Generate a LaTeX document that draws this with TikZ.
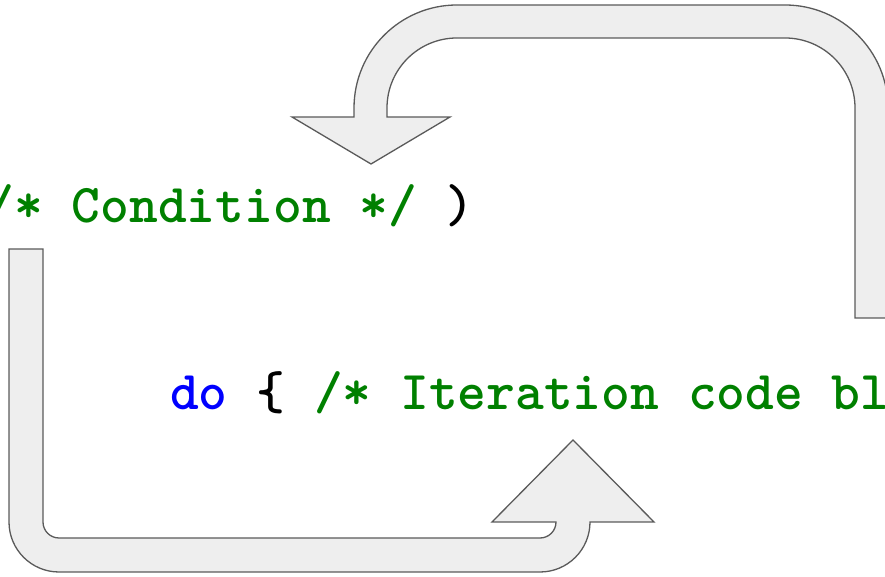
\documentclass[tikz,border=0pt]{standalone}
\usepackage{xcolor}
\definecolor{codegreen}{HTML}{008000}
\definecolor{codeblue}{HTML}{0000FF}
\definecolor{arrowline}{HTML}{5A5A5A}
\definecolor{arrowfill}{HTML}{EEEEEE}
\tikzset{
  looparrow/.style={draw=arrowline, fill=arrowfill, line width=1.3pt, line join=miter},
  codetext/.style={font=\ttfamily\bfseries\fontsize{54.8}{60}\selectfont, inner sep=0pt, anchor=base west}
}
\begin{document}
\begin{tikzpicture}[x=1pt, y=1pt]
    % \draw[help lines, step=50] (0, 0) grid (885, 577);
    \useasboundingbox (0, 0) rectangle (885, 577);

    % back to the condition
    \draw[looparrow] (855, 259) -- (855, 469) arc[start angle=0, end angle=90, radius=70]
      -- (457, 539) arc[start angle=90, end angle=180, radius=70]
      -- (387, 460) -- (450, 460) -- (371, 413) -- (292, 460) -- (354, 460)
      -- (354, 469) arc[start angle=180, end angle=90, radius=103]
      -- (785, 572) arc[start angle=90, end angle=0, radius=103]
      -- (888, 259) -- cycle;

    % on to the code block
    \draw[looparrow] (9, 328) -- (43, 328)
      -- (43, 55) arc[start angle=180, end angle=270, radius=16]
      -- (540, 39) arc[start angle=270, end angle=360, radius=16]
      -- (492, 55) -- (573, 137) -- (654, 55) -- (590, 55)
      arc[start angle=0, end angle=-90, radius=50]
      -- (59, 5) arc[start angle=270, end angle=180, radius=50] -- cycle;

    \node[codetext] (cond) at (-14.6, 354) {\textcolor{codegreen}{/* Condition */} )};
    \node[codetext] (iter) at (170, 167) {\textcolor{codeblue}{do} \{ \textcolor{codegreen}{/* Iteration code bl}};
  \end{tikzpicture}
\end{document}
